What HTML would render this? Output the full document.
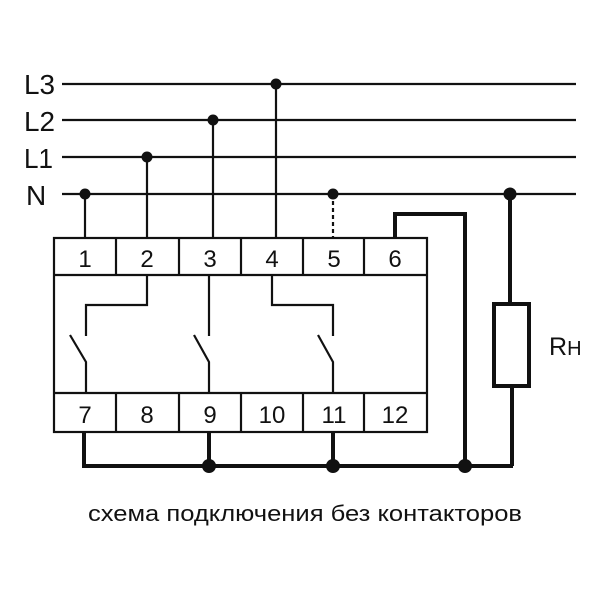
<!DOCTYPE html>
<html><head><meta charset="utf-8"><style>body{margin:0;background:#fff}</style></head><body>
<svg width="600" height="600" xmlns="http://www.w3.org/2000/svg" font-family="Liberation Sans, sans-serif">
<rect width="600" height="600" fill="#fff"/>
<g fill="#111" font-size="28">
<text x="24" y="94" textLength="31" lengthAdjust="spacingAndGlyphs">L3</text><text x="24" y="131" textLength="31" lengthAdjust="spacingAndGlyphs">L2</text><text x="24" y="168" textLength="29" lengthAdjust="spacingAndGlyphs">L1</text><text x="26" y="205">N</text>
</g>
<g stroke="#111" stroke-width="2.2" fill="none">
<line x1="62" y1="84" x2="576" y2="84"/><line x1="62" y1="120" x2="576" y2="120"/>
<line x1="62" y1="157" x2="576" y2="157"/><line x1="62" y1="194" x2="576" y2="194"/>
<line x1="85" y1="194" x2="85" y2="238"/><line x1="147" y1="157" x2="147" y2="238"/>
<line x1="213" y1="120" x2="213" y2="238"/><line x1="276" y1="84" x2="276" y2="238"/>
<line x1="333" y1="194" x2="333" y2="238" stroke-dasharray="4,3"/>
<rect x="54" y="238" width="373" height="194"/>
<line x1="54" y1="275" x2="427" y2="275"/><line x1="54" y1="393" x2="427" y2="393"/>
<line x1="116" y1="238" x2="116" y2="275"/><line x1="179" y1="238" x2="179" y2="275"/><line x1="241" y1="238" x2="241" y2="275"/><line x1="303" y1="238" x2="303" y2="275"/><line x1="364" y1="238" x2="364" y2="275"/>
<line x1="116" y1="393" x2="116" y2="432"/><line x1="179" y1="393" x2="179" y2="432"/><line x1="241" y1="393" x2="241" y2="432"/><line x1="303" y1="393" x2="303" y2="432"/><line x1="364" y1="393" x2="364" y2="432"/>
<polyline points="147,275 147,305 86,305 86,336"/>
<polyline points="70,335 86,362 86,393"/>
<line x1="209" y1="275" x2="209" y2="336"/>
<polyline points="194,335 209,362 209,393"/>
<polyline points="272,275 272,305 333,305 333,336"/>
<polyline points="318,335 333,362 333,393"/>
</g>
<g stroke="#111" stroke-width="4" fill="none">
<polyline points="84,432 84,466 513,466"/>
<line x1="209" y1="432" x2="209" y2="466"/><line x1="333" y1="432" x2="333" y2="466"/>
<polyline points="395,238 395,214 465,214 465,466"/>
<line x1="510" y1="194" x2="510" y2="303"/><line x1="512" y1="387" x2="512" y2="466"/>
<rect x="494" y="304" width="35" height="82"/>
</g>
<g fill="#111">
<circle cx="85" cy="194" r="5.5"/><circle cx="147" cy="157" r="5.5"/><circle cx="213" cy="120" r="5.5"/><circle cx="276" cy="84" r="5.5"/>
<circle cx="333" cy="194" r="5.5"/><circle cx="510" cy="194" r="6.5"/>
<circle cx="209" cy="466" r="7"/><circle cx="333" cy="466" r="7"/><circle cx="465" cy="466" r="7"/>
</g>
<g fill="#111" font-size="24" text-anchor="middle">
<text x="85" y="267">1</text><text x="147" y="267">2</text><text x="210" y="267">3</text><text x="272" y="267">4</text><text x="334" y="267">5</text><text x="395" y="267">6</text>
<text x="85" y="423">7</text><text x="147" y="423">8</text><text x="210" y="423">9</text><text x="272" y="423">10</text><text x="334" y="423">11</text><text x="395" y="423">12</text>
</g>
<text x="549" y="355" font-size="25" fill="#111">R<tspan font-size="20">H</tspan></text>
<text x="88" y="521" font-size="22" fill="#111" textLength="434" lengthAdjust="spacingAndGlyphs">схема подключения без контакторов</text>
</svg>
</body></html>
